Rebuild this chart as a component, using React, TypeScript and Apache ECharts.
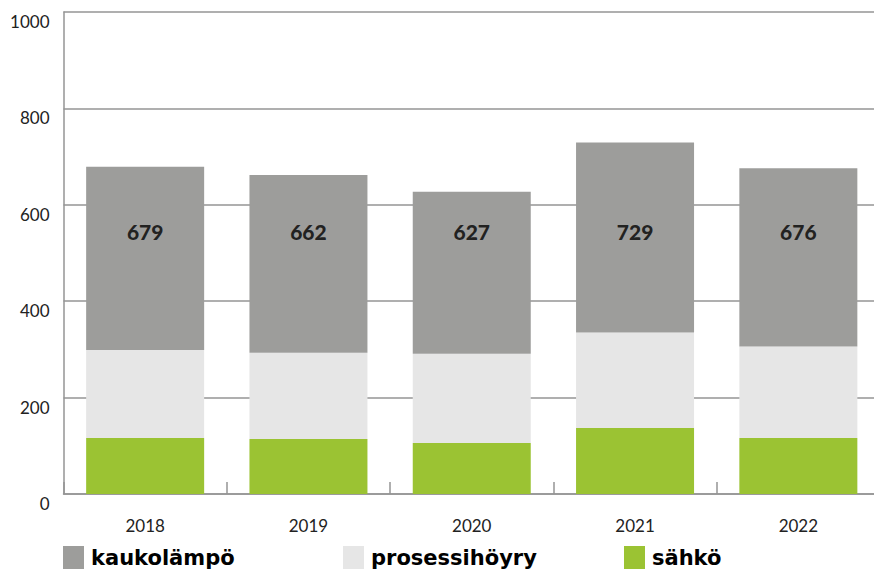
import React, { useEffect, useRef } from "react";
import * as echarts from "echarts";

const YEARS = ["2018", "2019", "2020", "2021", "2022"];
const SAHKO = [116, 114, 106, 137, 116];
const PROSESSIHOYRY = [183, 179, 185, 198, 190];
const KAUKOLAMPO = [380, 369, 336, 394, 370];
const Y_TICKS = [0, 200, 400, 600, 800, 1000];
const LABEL_LEVEL = 545;

const TOTALS = YEARS.map((_, i) => SAHKO[i] + PROSESSIHOYRY[i] + KAUKOLAMPO[i]);

const C_KAUKO = "#9d9d9b";
const C_PROS = "#e6e6e6";
const C_SAHKO = "#9bc333";
const GRID_C = "#959595";
const FONT = "Lato, 'DejaVu Sans', sans-serif";
const LEG_FONT = "'DejaVu Sans', sans-serif";

export default function App() {
  const ref = useRef<HTMLDivElement>(null);
  useEffect(() => {
    if (!ref.current) return;
    const chart = echarts.init(ref.current, null, { renderer: "svg" });
    const legendBase = (name: string, left: number) => ({
      data: [name],
      left,
      top: 546,
      padding: 0,
      orient: "horizontal",
      icon: "rect",
      itemWidth: 21,
      itemHeight: 23,
      selectedMode: false,
      textStyle: {
        fontFamily: LEG_FONT,
        fontWeight: "bold",
        fontSize: 21,
        color: "#000",
        padding: [0, 0, 0, 2],
      },
    });
    chart.setOption({
      animation: false,
      backgroundColor: "#fff",
      grid: { left: 63.5, right: 0, top: 12, bottom: 84, containLabel: false },
      legend: [
        legendBase("kaukolämpö", 63),
        legendBase("prosessihöyry", 343),
        legendBase("sähkö", 624),
      ],
      xAxis: {
        type: "category",
        data: YEARS,
        axisLine: { show: true, lineStyle: { color: GRID_C, width: 1.5 } },
        axisTick: { show: true, inside: true, length: 12, alignWithLabel: false, lineStyle: { color: GRID_C, width: 1.5 } },
        axisLabel: { fontFamily: FONT, fontSize: 17, color: "#222", margin: 23 },
        splitLine: { show: false },
      },
      yAxis: {
        type: "value",
        min: Y_TICKS[0],
        max: Y_TICKS[Y_TICKS.length - 1],
        interval: 200,
        axisLine: { show: true, lineStyle: { color: GRID_C, width: 1.5 } },
        axisTick: { show: false },
        axisLabel: {
          fontFamily: FONT,
          fontSize: 17,
          color: "#222",
          margin: 14,
          verticalAlign: "top",
          padding: [1, 0, 0, 0],
          formatter: (v: number) => String(v),
        },
        splitLine: { show: true, lineStyle: { color: GRID_C, width: 1.5 } },
      },
      series: [
        {
          name: "sähkö",
          type: "bar",
          stack: "total",
          barWidth: 118,
          data: SAHKO,
          itemStyle: { color: C_SAHKO },
        },
        {
          name: "prosessihöyry",
          type: "bar",
          stack: "total",
          barWidth: 118,
          data: PROSESSIHOYRY,
          itemStyle: { color: C_PROS },
        },
        {
          name: "kaukolämpö",
          type: "bar",
          stack: "total",
          barWidth: 118,
          data: KAUKOLAMPO,
          itemStyle: { color: C_KAUKO },
        },
        {
          name: "totals",
          type: "scatter",
          symbolSize: 0,
          silent: true,
          data: YEARS.map((y, i) => [y, LABEL_LEVEL, TOTALS[i]]),
          label: {
            show: true,
            position: "inside",
            formatter: (p: any) => String(p.value[2]),
            fontFamily: FONT,
            fontWeight: 900,
            fontSize: 21,
            color: "#000",
          },
          z: 10,
        },
      ],
    });
    return () => chart.dispose();
  }, []);
  return (
    <div style={{ position: "absolute", left: 0, top: 0, width: 874, height: 578, overflow: "hidden", background: "#fff" }}>
      <div ref={ref} style={{ width: 880, height: 578 }} />
    </div>
  );
}
